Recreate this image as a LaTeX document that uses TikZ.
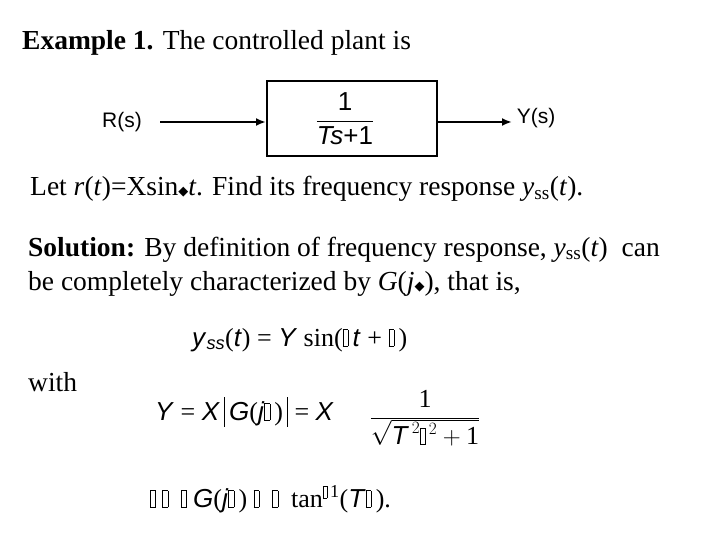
\documentclass[tikz,border=0pt]{standalone}
\usepackage{fontspec}
\usetikzlibrary{arrows.meta}
\setmainfont{Liberation Serif}
\setsansfont{Liberation Sans}
\newfontfamily\djvfont{DejaVu Sans}
\newcommand{\tofu}{{\setlength{\fboxsep}{0pt}\setlength{\fboxrule}{0.5pt}\fbox{\rule{0.18em}{0pt}\rule{0pt}{0.62em}}}}
\newcommand{\wdot}{{\djvfont\fontsize{13}{13}\selectfont ◆}}
\newcommand{\ai}[1]{\textsf{\textit{#1}}}
\begin{document}
\begin{tikzpicture}[x=1pt,y=-1pt,
  txt/.style={anchor=base west,inner sep=0pt,font=\fontsize{27.5}{32}\selectfont},
  ftxt/.style={anchor=base west,inner sep=0pt,font=\fontsize{26}{30}\selectfont},
  lab/.style={inner sep=0pt,font=\sffamily\fontsize{21}{24}\selectfont},
  conn/.style={line width=2pt,-{Latex[length=10pt,width=8pt]}}]
\useasboundingbox (0,0) rectangle (720,540);
\node[txt] (t1) at (22,50) {\textbf{Example 1.} The controlled plant is};
\node[draw,line width=2pt,minimum width=170pt,minimum height=75pt,inner sep=0pt] (blk) at (352,119) {};
\node[inner sep=0pt,font=\sffamily\fontsize{26}{30}\selectfont] (frac) at (345,119) {$\displaystyle\frac{\textsf{1}}{\textsf{\textit{Ts}}\textsf{+1}}$};
\node[lab] (R) at (122,122) {R(s)};
\node[lab] (Y) at (536,118) {Y(s)};
\coordinate (in) at (160,122);
\coordinate (out) at (512,122);
\draw[conn] (in) -- (blk.west|-in);
\draw[conn] (blk.east|-out) -- (out);
\node[txt] (t2) at (30,196) {Let \textit{r}(\textit{t})=Xsin\wdot\textit{t}. Find its frequency response \textit{y}\textsubscript{ss}(\textit{t}).};
\node[txt] (t3) at (28,256) {\textbf{Solution:} By definition of frequency response, \textit{y}\textsubscript{ss}(\textit{t})\ \ can};
\node[txt] (t4) at (28,290) {be completely characterized by \textit{G}(\textit{j}\wdot), that is,};
\node[ftxt] (f1) at (192,346) {\ai{y}\textsubscript{\ai{ss}}(\ai{t}) = \ai{Y} sin(\tofu\,\ai{t} + \tofu\,)};
\node[txt] (w) at (28,391) {with};
\node[ftxt] (f2) at (155,420) {\ai{Y} = \ai{X}\,\rule[-0.25em]{0.6pt}{1.15em}\,\ai{G}(\ai{j}\tofu\,)\,\rule[-0.25em]{0.6pt}{1.15em} = \ai{X}};
\node[inner sep=0pt,font=\fontsize{26}{30}\selectfont] (frac2) at (425,418) {$\displaystyle\frac{\textrm{1}}{\sqrt{\ai{T}^{\,2}\tofu^{\,2}+\textrm{1}}}$};
\node[ftxt] (f3) at (150,507) {\tofu\ \tofu\ \ \tofu\ \ai{G}(\ai{j}\tofu\,)\ \tofu\ \ \tofu\ \ tan\textsuperscript{\tofu\,1}(\ai{T}\tofu\,).};
\end{tikzpicture}
\end{document}
